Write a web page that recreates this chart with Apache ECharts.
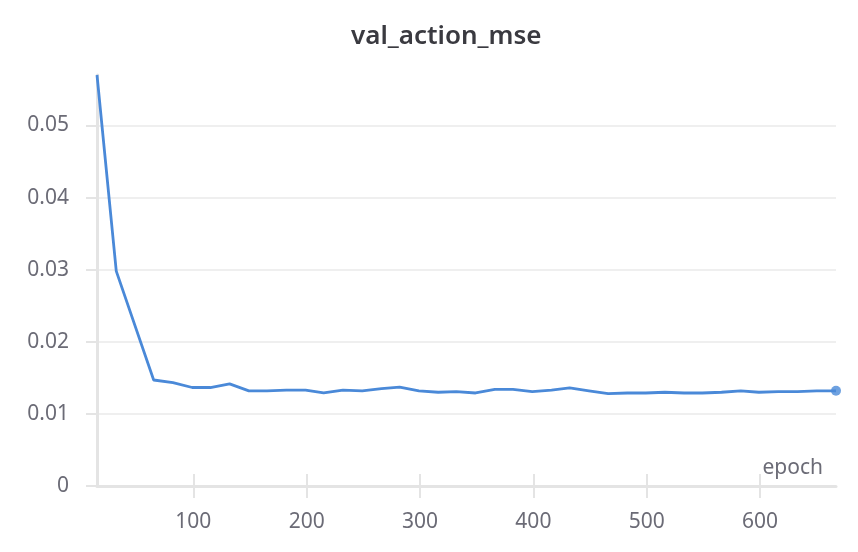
<!DOCTYPE html>
<html>
<head>
<meta charset="utf-8">
<script src="https://cdn.jsdelivr.net/npm/echarts@6/dist/echarts.min.js"></script>
<style>
html,body{margin:0;padding:0;background:#fff;}
#chart{width:858px;height:552px;}
</style>
</head>
<body>
<div id="chart"></div>
<script>
const titleText = 'val_action_mse';
const xName = 'epoch';
const epochs = [15,32,65,82,99,115,132,149,165,182,199,215,232,249,266,282,299,316,332,349,366,382,399,416,432,449,466,483,499,516,533,549,566,583,599,616,633,650,667];
const valActionMse = [0.0570,0.0298,0.0147,0.01435,0.01366,0.01366,0.01417,0.0132,0.0132,0.0133,0.0133,0.0129,0.0133,0.0132,0.0135,0.0137,0.0132,0.0130,0.0131,0.0129,0.0134,0.0134,0.0131,0.0133,0.0136,0.0132,0.0128,0.0129,0.0129,0.0130,0.0129,0.0129,0.0130,0.0132,0.0130,0.0131,0.0131,0.0132,0.0132];
const xTicks = [100,200,300,400,500,600];
const yTicks = [0,0.01,0.02,0.03,0.04,0.05];
const yMax = 0.057;

const FONT = '"Noto Sans", sans-serif';
const LABEL = '#6b6b76';
const AXIS = '#e4e4e4';
const LINE = '#4a89d8';

const seriesData = epochs.map((e, i) => [e, valActionMse[i]]);
const last = seriesData[seriesData.length - 1];
const xMin = epochs[0], xMax = epochs[epochs.length - 1];

const chart = echarts.init(document.getElementById('chart'), null, {renderer: 'canvas'});
chart.setOption({
  animation: false,
  backgroundColor: '#fff',
  title: {
    text: titleText,
    left: 346,
    top: 19,
    textStyle: {fontFamily: FONT, fontSize: 26, fontWeight: 600, color: '#3a3a40'}
  },
  grid: {left: 97, right: 22, top: 75, bottom: 66},
  xAxis: [{
    type: 'value',
    min: xMin,
    max: xMax,
    position: 'bottom',
    name: xName,
    nameLocation: 'end',
    nameGap: -13,
    nameTextStyle: {fontFamily: FONT, fontSize: 21, color: LABEL, align: 'right', verticalAlign: 'bottom', padding: [0, 0, 7, 0]},
    axisLine: {show: true, lineStyle: {color: AXIS, width: 3}},
    axisTick: {show: true, inside: false, length: 12, lineStyle: {color: AXIS, width: 2}, customValues: xTicks},
    axisLabel: {fontFamily: FONT, fontSize: 21, color: LABEL, margin: 26, customValues: xTicks},
    splitLine: {show: false}
  }, {
    type: 'value',
    min: xMin,
    max: xMax,
    position: 'top',
    offset: -411,
    axisLine: {show: false},
    axisTick: {show: true, inside: false, length: 12, lineStyle: {color: AXIS, width: 2}, customValues: xTicks},
    axisLabel: {show: false},
    splitLine: {show: false}
  }],
  yAxis: {
    type: 'value',
    min: 0,
    max: yMax,
    axisLine: {show: true, lineStyle: {color: AXIS, width: 3}},
    axisTick: {show: true, length: 11, lineStyle: {color: AXIS, width: 2}, customValues: yTicks},
    axisLabel: {fontFamily: FONT, fontSize: 21, color: LABEL, margin: 28, customValues: yTicks},
    splitLine: {show: true, lineStyle: {color: '#efefef', width: 2}}
  },
  series: [{
    type: 'line',
    data: seriesData,
    showSymbol: false,
    lineStyle: {color: LINE, width: 2.8},
    itemStyle: {color: LINE},
    z: 3
  }, {
    type: 'scatter',
    data: [last],
    symbol: 'circle',
    symbolSize: 10,
    itemStyle: {color: LINE},
    z: 4
  }]
});
</script>
</body>
</html>
